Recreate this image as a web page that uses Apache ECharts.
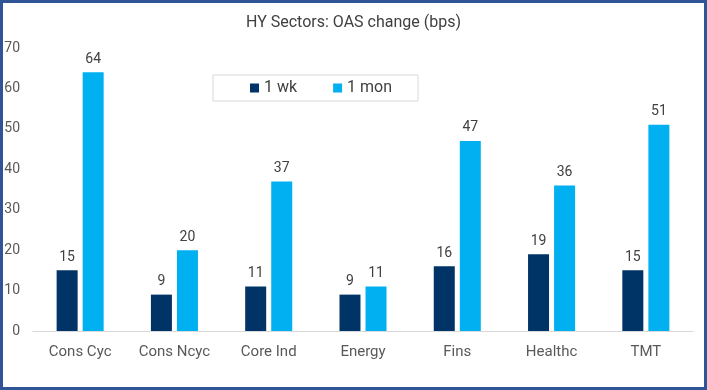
<!DOCTYPE html>
<html><head><meta charset="utf-8">
<script src="https://cdn.jsdelivr.net/npm/echarts@6/dist/echarts.min.js"></script>
<style>html,body{margin:0;padding:0;background:#fff}#c{width:707px;height:390px}</style>
</head><body><div id="c"></div>
<script>
const categories = ['Cons Cyc','Cons Ncyc','Core Ind','Energy','Fins','Healthc','TMT'];
const weekValues = [15, 9, 11, 9, 16, 19, 15];
const monthValues = [64, 20, 37, 11, 47, 36, 51];
const seriesNames = ['1 wk', '1 mon'];
const font = 'Roboto, "Liberation Sans", Arial, sans-serif';
const chart = echarts.init(document.getElementById('c'));
const labelStyle = {show:true, position:'top', color:'#404040', fontSize:14, fontFamily:font, distance:6};
chart.setOption({
  animation:false,
  title:{text:'HY Sectors: OAS change (bps)', left:'center', top:10, textStyle:{color:'#404040', fontSize:16, fontWeight:'normal', fontFamily:font}},
  legend:{data:seriesNames, left:213, top:75, itemWidth:9, itemHeight:9, itemGap:36, padding:[5,26,5,37],
    borderColor:'#d9d9d9', borderWidth:1, icon:'rect', textStyle:{color:'#404040', fontSize:16, fontFamily:font}},
  grid:{left:33, right:14, top:48, bottom:59, containLabel:false},
  xAxis:{type:'category', data:categories, axisTick:{show:false}, axisLine:{lineStyle:{color:'#d9d9d9', width:1}},
    axisLabel:{interval:0, color:'#595959', fontSize:15, fontFamily:font, margin:14}},
  yAxis:{type:'value', min:0, max:70, interval:10, splitLine:{show:false}, axisLine:{show:false}, axisTick:{show:false},
    axisLabel:{color:'#595959', fontSize:14, fontFamily:font, margin:13}},
  graphic:[{type:'rect', shape:{x:1.5, y:1.5, width:704, height:387}, style:{fill:null, stroke:'#2F5597', lineWidth:3}, z:100}],
  series:[
    {name:seriesNames[0], type:'bar', data:weekValues, barWidth:21, barGap:'24%', itemStyle:{color:'#003366'}, label:labelStyle},
    {name:seriesNames[1], type:'bar', data:monthValues, barWidth:21, itemStyle:{color:'#00B0F0'}, label:labelStyle}
  ]
});
</script></body></html>
